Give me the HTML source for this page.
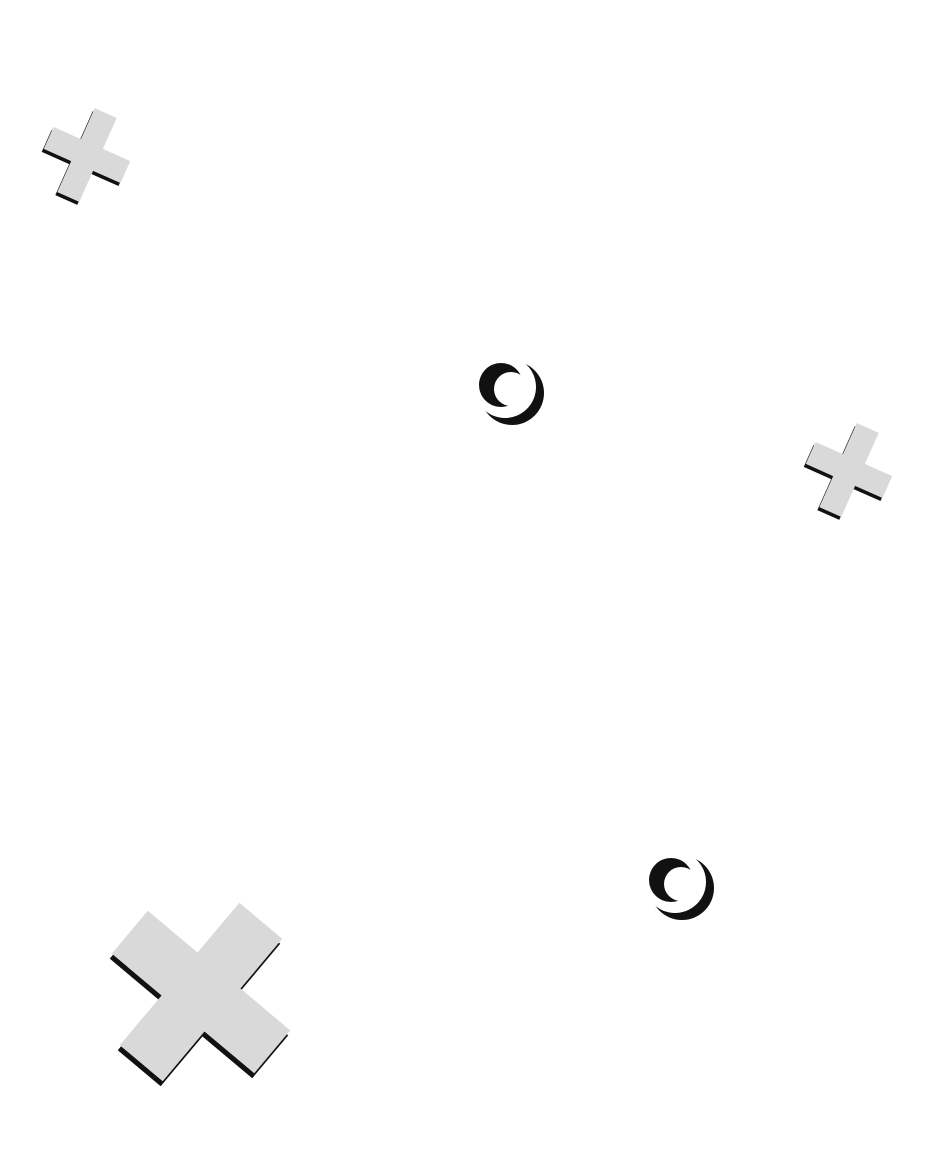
<!DOCTYPE html>
<html><head><meta charset="utf-8"><style>html,body{margin:0;padding:0;background:#fff}svg{display:block}</style></head>
<body>
<svg width="934" height="1162" viewBox="0 0 934 1162" xmlns="http://www.w3.org/2000/svg">
<defs>
<polygon id="cs" points="-12,-46 12,-46 12,-12 42,-12 42,12 12,12 12,46 -12,46 -12,12 -42,12 -42,-12 -12,-12"/>
<polygon id="cb" points="-28,-93 28,-93 28,-28 93,-28 93,28 28,28 28,93 -28,93 -28,28 -93,28 -93,-28 -28,-28"/>
</defs>
<g transform="translate(87,155) rotate(24)">
<use href="#cs" fill="#111" transform="rotate(-24) translate(-2,3) rotate(24)"/>
<use href="#cs" fill="#d9d9d9"/>
</g>
<g transform="translate(849,470) rotate(24)">
<use href="#cs" fill="#111" transform="rotate(-24) translate(-2,3) rotate(24)"/>
<use href="#cs" fill="#d9d9d9"/>
</g>
<g transform="translate(201,992) rotate(40)">
<use href="#cb" fill="#111" transform="rotate(-40) translate(-2,5) rotate(40)"/>
<use href="#cb" fill="#d9d9d9"/>
</g>
<g id="cr">
<circle cx="512" cy="393" r="32" fill="#111"/>
<circle cx="505" cy="387" r="31" fill="#fff"/>
<circle cx="501" cy="385" r="22" fill="#111"/>
<circle cx="511" cy="389" r="17" fill="#fff"/>
</g>
<use href="#cr" transform="translate(170,495)"/>
</svg>
</body></html>
